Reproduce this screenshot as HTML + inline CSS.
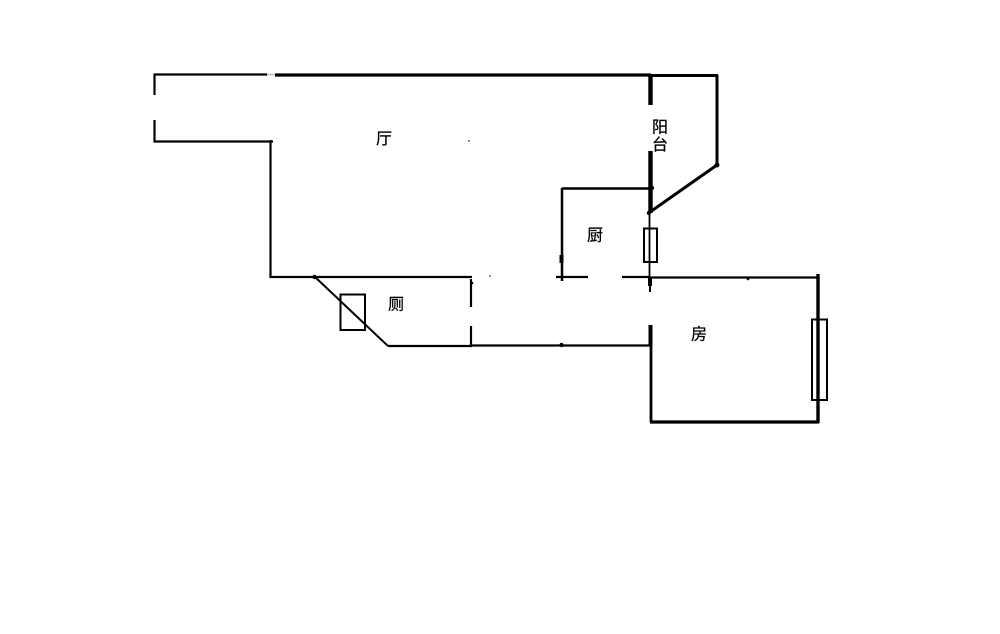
<!DOCTYPE html>
<html><head><meta charset="utf-8"><style>
html,body{margin:0;padding:0;background:#fff}
svg{display:block}
text{font-family:"Liberation Sans","Noto Sans CJK SC",sans-serif;font-size:16px;fill:#000;text-anchor:middle;stroke:#000;stroke-width:.25px}
</style></head><body>
<svg width="1000" height="634" viewBox="0 0 1000 634" xmlns="http://www.w3.org/2000/svg">
<rect width="1000" height="634" fill="#fff"/>
<g stroke="#000" fill="none" stroke-width="2.2">
<path d="M154 74.5H267"/>
<path d="M267 74.5H275" stroke="#bbb" stroke-width="1.5"/>
<path d="M275 75H651" stroke-width="3.2"/>
<path d="M154.5 73.5V95M154.5 120V142.5M153.5 141.5H273"/>
<path d="M270.5 140V278M269.5 277H472"/>
<path d="M314 276L388 346" stroke-width="2"/>
<path d="M388 346H472"/>
<rect x="340.5" y="294.5" width="24.5" height="35.5" stroke-width="2"/>
<path d="M471 279V307M471 326V346"/>
<path d="M471 345.5H651"/>
<path d="M650.5 74V105" stroke-width="4.4"/>
<path d="M650.5 151V213" stroke-width="4.4"/>
<path d="M650 75.5H718" stroke-width="3"/>
<path d="M717 75V165" stroke-width="3"/>
<path d="M717 165L650 212" stroke-width="3"/>
<path d="M562 188.500H652" stroke-width="2.500"/>
<path d="M562 188V281" stroke-width="2.500"/>
<path d="M561.500 255V263" stroke-width="4"/>
<path d="M649.500 212V278" stroke-width="1.800"/>
<rect x="644" y="228.500" width="13" height="33.500" stroke-width="2"/>
<path d="M556 277H588M622 277H650"/>
<path d="M650 277.500H818"/>
<path d="M650 277V292" stroke-width="2"/>
<path d="M650 278V286" stroke-width="4"/>
<path d="M650.500 325V346" stroke-width="4"/>
<path d="M651 345V422" stroke-width="2.800"/>
<path d="M650 422H819" stroke-width="3.200"/>
<path d="M818 274V423" stroke-width="3.400"/>
<rect x="812" y="319.500" width="15" height="80.500" stroke-width="2"/>
</g>
<g fill="#000">
<circle cx="314.500" cy="277" r="2.200"/><circle cx="561.500" cy="345" r="2.200"/><circle cx="717" cy="165" r="2.500"/>
<circle cx="649" cy="213" r="2.200"/><circle cx="652" cy="188" r="2.200"/><circle cx="748" cy="279" r="1.300"/>
<circle cx="472" cy="283" r="1.300"/><circle cx="490" cy="276" r=".8"/><circle cx="469" cy="141" r=".8"/>
</g>
<text x="384" y="144">厅</text>
<text x="660" y="132.500">阳</text>
<text x="660" y="150">台</text>
<text x="595" y="240.500">厨</text>
<text x="396" y="309.500">厕</text>
<text x="699" y="339.500">房</text>
</svg>
</body></html>
